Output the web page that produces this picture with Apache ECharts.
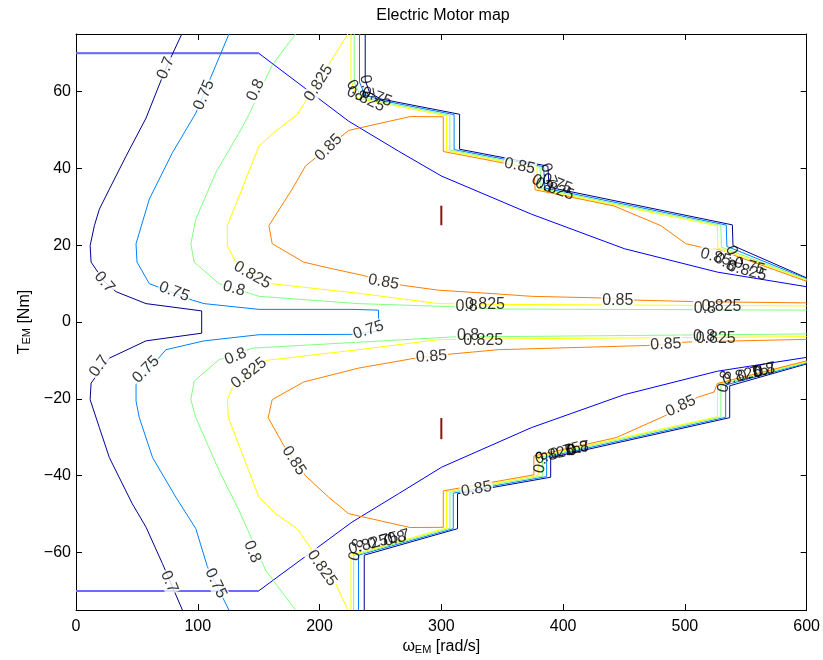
<!DOCTYPE html>
<html><head><meta charset="utf-8">
<script src="https://cdn.jsdelivr.net/npm/echarts@6/dist/echarts.min.js"></script>
<style>html,body{margin:0;padding:0;background:#fff}#c{width:823px;height:660px}</style>
</head><body><div id="c"></div>
<script>
const xTicks=[0,100,200,300,400,500,600];
const yTicks=[-60,-40,-20,0,20,40,60];

const eff070Main=[[86.9,75],[73.8,66.1],[57.5,53.1],[41.1,43.2],[27.4,34.6],[19.2,29.4],[15.1,25.1],[11.6,19.9],[12.4,15.6],[23.3,10.5],[32.9,7.9],[57.5,4.8],[103.2,2.9],[103.2,-2.9],[57.5,-4.9],[27.4,-9.4],[12.4,-15.9],[11.6,-20.2],[19.2,-27.5],[27.4,-35.3],[46.2,-47.3],[57.5,-53.4],[71,-62.9],[87.4,-75]];
const eff070Upper=[[237.5,75],[237.5,63],[241,59.8],[250,58.1],[315,54.1],[315,45],[387.5,40.6],[388.5,35.1],[539,25.3],[539.5,19.9],[600,11.5]];
const eff070Lower=[[236.7,-75],[236.7,-60.7],[313.3,-53.8],[313.3,-44.7],[389.8,-40.4],[389.8,-35.3],[536.8,-24.9],[536.8,-16.6],[600,-10.9]];

const eff075Main=[[125.6,75],[98.4,54.4],[79.2,44.1],[60.2,32],[49.3,20.4],[50.1,15.6],[60.2,10],[95.6,5.7],[105.2,4.8],[150.2,3.3],[226.6,3.3],[248.4,3.1],[248.4,-2.3],[229.3,-3.2],[150.2,-3.3],[105.2,-4.9],[73.8,-7.2],[49.3,-16.3],[49.3,-20.6],[52,-24.9],[62.9,-35.3],[82,-45.6],[98.4,-53.8],[107.9,-63.7],[125.6,-75]];
const eff075Upper=[[232.8,75],[232.8,62.5],[237,59.2],[250,57.75],[310.5,54.0],[310.5,44.9],[384,40.46],[385,34.9],[534,25.25],[534.5,19.7],[600,11.3]];
const eff075Lower=[[232,-75],[232,-60.7],[309.8,-53.8],[309.8,-44.55],[386.5,-40.24],[386.5,-35.18],[533.5,-24.8],[533.5,-16.4],[600,-10.7]];

const eff080UpperMain=[[180.2,75],[161.1,66.9],[142,54],[133.8,49.2],[114.8,38.9],[98.4,26.8],[94.3,20.4],[97,15.6],[117.5,10],[150.2,6.7],[232,4.8],[308.4,4],[346.7,3.4],[600,3.1]];
const eff080LowerMain=[[600,-3.1],[346.7,-3.8],[313.9,-3.8],[229.3,-5.3],[144.7,-6.8],[117.5,-9.8],[97,-15.4],[94.3,-20.2],[98.4,-24.9],[117.5,-38.7],[133.8,-49],[140.6,-53.8],[155.7,-64.6],[180.2,-75]];
const eff080Upper=[[228.5,75],[228.5,62.5],[234,58.6],[250,57.4],[307,53.85],[307,44.8],[381,40.3],[382,34.75],[529.5,25.2],[530,19.5],[600,11.1]];
const eff080Lower=[[228,-75],[228,-60.8],[307.1,-53.7],[307.1,-44.35],[383,-40.1],[383,-35.08],[529.5,-24.72],[529.5,-16.2],[600,-10.5]];

const eff0825UpperMain=[[223.3,75],[181.6,54],[163.9,49.7],[150.2,45.8],[124.3,25.1],[124.3,19.9],[131.1,15.6],[160,10],[232,7.5],[297.6,4.8],[346.7,4.6],[600,4.2]];
const eff0825LowerMain=[[600,-3.8],[346.7,-4.4],[297.6,-4.6],[232,-7.2],[155.7,-10],[128.3,-17.1],[124.3,-20.2],[125.1,-24.9],[150.2,-45.6],[163.9,-49.9],[181.6,-53.8],[213,-68],[223.3,-75]];
const eff0825Upper=[[225.8,75],[225.8,63],[231,58.3],[250,57.05],[304.3,53.7],[304.3,44.6],[378.5,40.1],[379.5,34.56],[526.7,25.04],[527,19.3],[600,10.9]];
const eff0825Lower=[[225.8,-75],[225.8,-60.7],[304.3,-53.6],[304.3,-44.15],[379.5,-39.94],[379.5,-34.98],[526.8,-24.65],[526.8,-16.0],[600,-10.3]];

const eff085Upper=[[600,5.0],[510,5.3],[461,5.7],[428,6.3],[374,6.7],[346.7,7.3],[297.6,8.3],[267.5,9.6],[234.8,12.2],[210,13.9],[187,15.6],[161.1,20.4],[158.4,25.1],[177.5,34.6],[188.4,40.6],[223.9,49.9],[274.4,53.5],[301.6,53.45],[301.6,44.4],[376,39.9],[377,34.44],[442,30.2],[480.3,25.1],[500.8,20.4],[518.6,19.1],[527,18.9],[600,10.6]];
const eff085Lower=[[600,-4.5],[502.2,-5.2],[469.5,-6.1],[346.7,-7.2],[305.7,-8.4],[278.5,-9.4],[232,-12],[187,-15.6],[161.1,-20.2],[157.8,-24.9],[170.7,-32.2],[188.4,-40],[207.5,-45.6],[223.9,-49.9],[274.4,-53.5],[301.6,-53.45],[301.6,-43.96],[376,-39.78],[376,-34.87],[443.5,-30.1],[483.1,-24.5],[510.4,-19.6],[524,-18.2],[526.7,-16],[600,-10.1]];

const eff090Upper=[[300,25.2],[300,30.3]];
const eff090Lower=[[300,-25],[300,-30.5]];

const maxTorqueUpper=[[0,70],[150,70],[223.9,52.3],[264.8,44.5],[300.2,38],[373.9,28.1],[450.3,19.1],[526.7,13],[600,9.2]];
const maxTorqueLower=[[0,-70],[150,-70],[226.6,-52.1],[264.8,-44.7],[300.2,-37.8],[373.9,-27.5],[450.3,-18.9],[526.7,-12.8],[600,-9.2]];

// contour labels: [text, x, y, angle]
const isolatedLabels=[
['0.7',73.8,66.1,67],['0.75',105.2,59.1,67],['0.8',147.5,60.4,65],['0.825',199.3,62.2,58],['0.85',207.5,45.4,45],
['0.7',23.3,10.4,-50],['0.75',80.6,7.9,-20],['0.8',129.7,8.7,-15],['0.825',144.7,12.2,-30],['0.85',252.5,10.4,-10],
['0.75',240.2,-2.1,18],['0.85',444.9,5.7,0],['0.85',292,-9,4],['0.85',484.4,-5.8,3],
['0.7',19.2,-11.5,55],['0.75',57.5,-12.4,45],['0.8',131.1,-9,22],['0.825',142,-13.3,38],['0.85',178.9,-36.1,-57],
['0.8',144.7,-59.8,-68],['0.825',202,-64.1,-55],['0.7',76.5,-67.6,-67],['0.75',114.8,-68,-64],
['0.85',328.9,-43.5,10],['0.85',496.7,-21.9,25],['0.85',364.4,40.6,-12],['0.85',525.3,16.9,-15],
['0.8',320.7,4,0],['0.8',516.4,3.4,0],['0.8',322,-3.4,0],['0.8',515.8,-3.8,0]
];
const clusterLabels=[
['0.825',335.8,4.6,0],['0.825',530,4,0],['0.825',334.4,-4.7,0],['0.825',525.3,-4.4,0],
['0.7',238.5,61.5,-80],['0.8',230,60.3,-55],['0.825',238,58,-25],['0.75',247,58.6,-20],
['0.7',388,38.5,-70],['0.8',383,36,-30],['0.825',393,34.6,-20],['0.75',395,36,-22],
['0.7',540,17,-70],['0.8',533,15.5,-30],['0.825',551,13.3,-15],['0.75',553,14.5,-15],
['0.8',230.5,-59.3,75],['0.825',240,-58,15],['0.75',252,-57,15],['0.8',262,-56.5,15],['0.7',265,-56,15],
['0.8',382,-36.5,78],['0.825',393,-34.5,15],['0.75',402,-33.6,15],['0.8',412,-33,15],['0.7',413,-33,15],
['0.8',533,-15.5,78],['0.825',547,-14,15],['0.75',556,-13.3,15],['0.8',565,-12.7,15],['0.7',566,-12.5,15]
];

const FONT="'Liberation Sans', Arial, Helvetica, sans-serif";
const C={c070:'#00008f',c075:'#0080ff',c080:'#80ff80',c0825:'#ffff00',c085:'#ff8000',c090:'#8f1010',mt:'#0000ff',mtFlat:'#6b6bff'};

function line(data,color,width,z){
  return {type:'line',data:data,symbol:'none',showSymbol:false,silent:true,animation:false,clip:true,
    lineStyle:{color:color,width:width||1},z:z||2};
}
function labelSeries(list,masked){
  return {type:'scatter',silent:true,animation:false,symbol:'circle',symbolSize:1,z:5,
    itemStyle:{color:'rgba(0,0,0,0)'},
    data:list.map(l=>({value:[l[1],l[2]],label:{formatter:l[0],rotate:l[3]}})),
    label:{show:true,position:'inside',color:'#000',fontSize:16,fontFamily:FONT,textBorderWidth:0,
      backgroundColor:masked?'#fff':'transparent',padding:masked?[0,1]:0}};
}
const subRich={
  a:{fontSize:16,lineHeight:28,verticalAlign:'bottom',fontFamily:FONT,color:'#000'},
  s:{fontSize:11,lineHeight:16,verticalAlign:'bottom',fontFamily:FONT,color:'#000'}
};

const chart=echarts.init(document.getElementById('c'),null,{renderer:'canvas'});
const minus=v=>String(v).replace('-','\u2212');
const axisCommon={
  axisLine:{onZero:false,lineStyle:{color:'#000',width:1}},
  splitLine:{show:false}
};
chart.setOption({
  animation:false,
  backgroundColor:'#fff',
  title:{text:'Electric Motor map',left:443,top:8,textAlign:'center',padding:0,
    textStyle:{fontSize:16,fontWeight:'normal',color:'#000',fontFamily:FONT}},
  grid:{left:76,right:13,top:34,bottom:47,containLabel:false},
  xAxis:[
    Object.assign({type:'value',min:0,max:600,interval:100,position:'bottom',
      axisTick:{inside:true,length:6,lineStyle:{color:'#000'}},
      axisLabel:{fontSize:16,color:'#000',margin:8,fontFamily:FONT,customValues:xTicks},
      name:'{a|ω}{s|EM}{a| [rad/s]}',nameLocation:'middle',nameGap:15,
      nameTextStyle:{color:'#000',fontFamily:FONT,rich:subRich}
    },axisCommon),
    Object.assign({type:'value',min:0,max:600,interval:100,position:'top',
      axisTick:{inside:true,length:6,lineStyle:{color:'#000'}},axisLabel:{show:false}},axisCommon)
  ],
  yAxis:[
    Object.assign({type:'value',min:-75,max:75,position:'left',
      axisTick:{inside:true,length:6,lineStyle:{color:'#000'},customValues:yTicks},
      axisLabel:{fontSize:16,color:'#000',margin:5,fontFamily:FONT,customValues:yTicks,formatter:minus},
      name:'{a|T}{s|EM}{a| [Nm]}',nameLocation:'middle',nameGap:42,nameRotate:90,
      nameTextStyle:{color:'#000',fontFamily:FONT,rich:subRich}
    },axisCommon),
    Object.assign({type:'value',min:-75,max:75,position:'right',
      axisTick:{inside:true,length:6,lineStyle:{color:'#000'},customValues:yTicks},
      axisLabel:{show:false,customValues:yTicks}},axisCommon)
  ],
  series:[
    line(maxTorqueUpper,C.mt,1),line(maxTorqueLower,C.mt,1),
    line(maxTorqueUpper.slice(0,2),C.mtFlat,2),line(maxTorqueLower.slice(0,2),C.mtFlat,2),
    line(eff070Main,C.c070),line(eff070Upper,C.c070),line(eff070Lower,C.c070),
    line(eff075Main,C.c075),line(eff075Upper,C.c075),line(eff075Lower,C.c075),
    line(eff080UpperMain,C.c080),line(eff080LowerMain,C.c080),line(eff080Upper,C.c080),line(eff080Lower,C.c080),
    line(eff0825UpperMain,C.c0825),line(eff0825LowerMain,C.c0825),line(eff0825Upper,C.c0825),line(eff0825Lower,C.c0825),
    line(eff085Upper,C.c085),line(eff085Lower,C.c085),
    line(eff090Upper,C.c090,2),line(eff090Lower,C.c090,2),
    labelSeries(isolatedLabels,true),labelSeries(clusterLabels,false)
  ]
});
</script></body></html>
